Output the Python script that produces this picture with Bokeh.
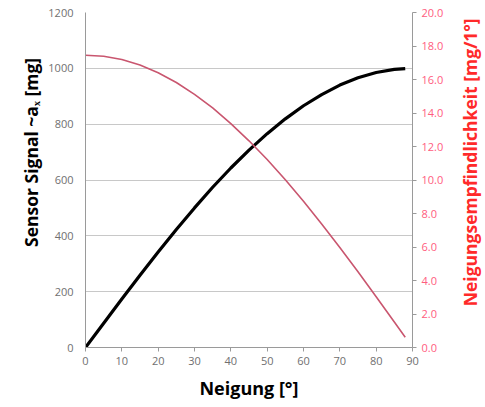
import math
from bokeh.plotting import figure
from bokeh.layouts import row
from bokeh.models import Range1d, LinearAxis, FixedTicker, NumeralTickFormatter
from bokeh.core.properties import value
from bokeh.embed import file_html
from bokeh.resources import INLINE

neigung = [0, 5, 10, 15, 20, 25, 30, 35, 40, 45, 50, 55, 60, 65, 70, 75, 80, 85, 88]
signal = [0, 87, 174, 259, 342, 423, 500, 574, 643, 707, 766, 819, 866, 906, 940, 966, 985, 996, 999]
empf = [17.45, 17.39, 17.19, 16.86, 16.40, 15.82, 15.11, 14.30, 13.37, 12.34, 11.22, 10.01,
        8.73, 7.37, 5.97, 4.52, 3.03, 1.52, 0.61]
x_ticks = [0, 10, 20, 30, 40, 50, 60, 70, 80, 90]
y_ticks = [0, 200, 400, 600, 800, 1000, 1200]
y2_ticks = [0, 2, 4, 6, 8, 10, 12, 14, 16, 18, 20]
left_label = "Sensor Signal ~aₓ [mg]"
right_label = "Neigungsempfindlichkeit [mg/1°]"
x_label = "Neigung [°]"

FONT = "Open Sans"
H = 407


def side_panel(width, x, y, text, color):
    q = figure(width=width, height=H, output_backend="svg", toolbar_location=None,
               x_range=Range1d(0, width), y_range=Range1d(0, H),
               min_border_left=0, min_border_right=0, min_border_top=0, min_border_bottom=0)
    q.axis.visible = False
    q.grid.grid_line_color = None
    q.outline_line_color = None
    q.text(x=[x], y=[H - y], text=[text], angle=math.pi / 2,
           text_align="center", text_baseline="middle",
           text_font=value(FONT), text_font_style="bold", text_font_size="17.5px",
           text_color=color)
    return q


p = figure(width=410, height=H, output_backend="svg", toolbar_location=None,
           x_range=Range1d(0, 90), y_range=Range1d(0, 1200),
           min_border_left=40, min_border_right=43, min_border_top=12, min_border_bottom=60)
p.extra_y_ranges = {"r": Range1d(0, 20)}
p.outline_line_color = None
p.background_fill_color = "white"
p.border_fill_color = "white"

p.xgrid.grid_line_color = None
p.ygrid.grid_line_color = "#c8c8c8"
p.ygrid.grid_line_width = 1
p.ygrid.ticker = FixedTicker(ticks=y_ticks)

p.line(neigung, signal, line_color="black", line_width=3.2)
p.line(neigung, empf, line_color="#c9566f", line_width=1.6, y_range_name="r")

xa = p.xaxis[0]
xa.ticker = FixedTicker(ticks=x_ticks)
xa.axis_label = x_label
ya = p.yaxis[0]
ya.ticker = FixedTicker(ticks=y_ticks)

for ax in (xa, ya):
    ax.axis_line_color = "#9a9a9a"
    ax.major_tick_line_color = "#9a9a9a"
    ax.minor_tick_line_color = None
    ax.major_tick_in = 0
    ax.major_tick_out = 4
    ax.major_label_text_color = "#707070"
    ax.major_label_text_font = FONT
    ax.major_label_text_font_size = "11px"
    ax.axis_label_text_font = FONT
    ax.axis_label_text_font_style = "bold"
    ax.axis_label_text_font_size = "18px"
    ax.axis_label_text_color = "black"
ya.major_tick_line_color = None
ya.major_label_standoff = 8
xa.axis_label_standoff = 8

ra = LinearAxis(y_range_name="r", ticker=FixedTicker(ticks=y2_ticks),
                formatter=NumeralTickFormatter(format="0.0"))
ra.axis_line_color = "#9a9a9a"
ra.major_tick_line_color = "#9a9a9a"
ra.minor_tick_line_color = None
ra.major_tick_in = 0
ra.major_tick_out = 4
ra.major_label_text_color = "#ff5c80"
ra.major_label_text_font = FONT
ra.major_label_text_font_size = "11px"
p.add_layout(ra, "right")

ql = side_panel(45, 30, 170, left_label, "black")
qr = side_panel(30, 14, 182, right_label, "#ff2a2a")

layout = row(ql, p, qr, spacing=0)
open("out.html", "w").write(file_html(layout, INLINE))
